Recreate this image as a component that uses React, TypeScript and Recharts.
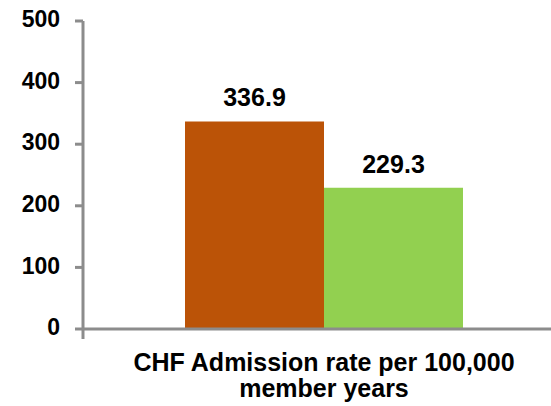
import React from "react";
import { BarChart, Bar, XAxis, YAxis, LabelList } from "recharts";

const categories = ["CHF Admission rate per 100,000 member years"];
const categoryLines = [["CHF Admission rate per 100,000", "member years"]];
const seriesA = [336.9];
const seriesB = [229.3];
const yTicks = [0, 100, 200, 300, 400, 500];

const data = categories.map((name, i) => ({
  name,
  lines: categoryLines[i],
  a: seriesA[i],
  b: seriesB[i],
}));

const FONT = "'Liberation Sans', Arial, sans-serif";
const AXIS_GRAY = "#8c8c8c";

function CategoryTick(props: any) {
  const { x, y, payload, index } = props;
  const lines: string[] = data[index]?.lines ?? [String(payload.value)];
  const half = payload.offset ?? 0;
  return (
    <g>
      <line x1={x - half} x2={x - half} y1={y} y2={y + 10} stroke={AXIS_GRAY} strokeWidth={3} />
      <line x1={x + half} x2={x + half} y1={y} y2={y + 10} stroke={AXIS_GRAY} strokeWidth={3} />
      {lines.map((line, i) => (
        <text
          key={i}
          x={x}
          y={y + 42 + i * 26}
          textAnchor="middle"
          fontFamily={FONT}
          fontWeight="bold"
          fontSize={25}
          fill="#000"
        >
          {line}
        </text>
      ))}
    </g>
  );
}

export default function App() {
  return (
    <div
      style={{
        position: "absolute",
        left: 0,
        top: 0,
        width: 551,
        height: 406,
        overflow: "hidden",
        background: "#fff",
      }}
    >
      <BarChart
        width={565}
        height={406}
        data={data}
        margin={{ top: 21, right: 0, bottom: 0, left: 0 }}
        barCategoryGap={102}
        barGap={0}
      >
        <XAxis
          dataKey="name"
          height={77}
          axisLine={{ stroke: AXIS_GRAY, strokeWidth: 3 }}
          tickLine={false}
          tickSize={0}
          tickMargin={0}
          tick={<CategoryTick />}
          interval={0}
        />
        <YAxis
          width={83}
          domain={[0, 500]}
          ticks={yTicks}
          interval={0}
          axisLine={{ stroke: AXIS_GRAY, strokeWidth: 3 }}
          tickLine={{ stroke: AXIS_GRAY, strokeWidth: 3 }}
          tickSize={8}
          tickMargin={15}
          tick={{ fill: "#000", fontSize: 23, fontWeight: "bold", fontFamily: FONT, dy: -2 }}
        />
        <Bar dataKey="a" fill="#BB5307" isAnimationActive={false}>
          <LabelList
            dataKey="a"
            position="top"
            offset={15}
            fill="#000"
            fontSize={25}
            fontWeight="bold"
            fontFamily={FONT}
          />
        </Bar>
        <Bar dataKey="b" fill="#92D050" isAnimationActive={false}>
          <LabelList
            dataKey="b"
            position="top"
            offset={15}
            fill="#000"
            fontSize={25}
            fontWeight="bold"
            fontFamily={FONT}
          />
        </Bar>
      </BarChart>
    </div>
  );
}
